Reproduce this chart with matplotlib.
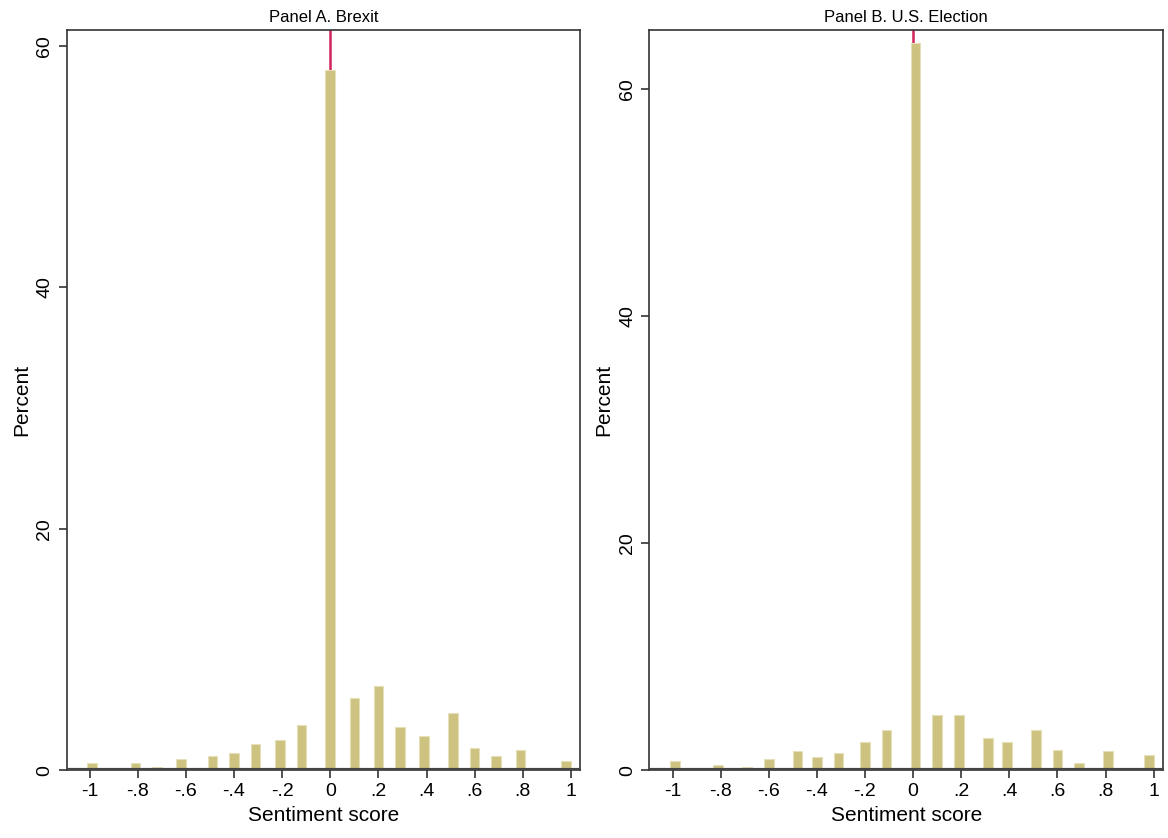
import matplotlib.pyplot as plt

plt.rcParams['font.family'] = ['Liberation Sans', 'DejaVu Sans']

brexit_x = [-0.99, -0.90, -0.81, -0.72, -0.62, -0.49, -0.40, -0.31, -0.21, -0.12, 0.0,
            0.10, 0.20, 0.29, 0.39, 0.51, 0.60, 0.69, 0.79, 0.89, 0.98]
brexit_y = [0.55, 0.1, 0.55, 0.28, 0.9, 1.2, 1.4, 2.15, 2.5, 3.75, 58.0,
            6.0, 6.95, 3.6, 2.8, 4.7, 1.85, 1.2, 1.7, 0.1, 0.75]
us_x = [-0.99, -0.90, -0.81, -0.69, -0.60, -0.48, -0.40, -0.31, -0.20, -0.11, 0.01,
        0.10, 0.19, 0.31, 0.39, 0.51, 0.60, 0.69, 0.81, 0.89, 0.98]
us_y = [0.8, 0.1, 0.47, 0.3, 1.0, 1.65, 1.15, 1.5, 2.5, 3.5, 64.1,
        4.9, 4.9, 2.8, 2.5, 3.5, 1.8, 0.65, 1.65, 0.1, 1.35]
xticks = [-1, -0.8, -0.6, -0.4, -0.2, 0, 0.2, 0.4, 0.6, 0.8, 1]
xlabels = ['-1', '-.8', '-.6', '-.4', '-.2', '0', '.2', '.4', '.6', '.8', '1']

fig = plt.figure(figsize=(11.68, 8.38), dpi=100)
panels = [('Panel A. Brexit', brexit_x, brexit_y, 61.3, [0.057, 0.081, 0.440, 0.883]),
          ('Panel B. U.S. Election', us_x, us_y, 65.2, [0.556, 0.081, 0.440, 0.883])]
for title, x, y, top, rect in panels:
    ax = fig.add_axes(rect)
    ax.axvline(0, color='#d0245a', linewidth=1.8, zorder=1)
    ax.bar(x, y, width=0.04, color='#cdc27f', edgecolor='#e6e0b8', linewidth=0.8, zorder=2)
    ax.axhline(0, color='#444444', linewidth=3, zorder=3)
    ax.set_xlim(-1.096, 1.04)
    ax.set_ylim(0, top)
    ax.set_xticks(xticks)
    ax.set_xticklabels(xlabels)
    ax.set_yticks([0, 20, 40, 60])
    ax.tick_params(labelsize=14, length=6, width=1.2, colors='#333333', labelcolor='black')
    ax.tick_params(axis='y', labelrotation=90)
    for lab in ax.get_yticklabels():
        lab.set_va('center')
    ax.set_xlabel('Sentiment score', fontsize=15)
    ax.set_ylabel('Percent', fontsize=15)
    ax.set_title(title, fontsize=12, pad=6)
    for s in ax.spines.values():
        s.set_color('#333333')
        s.set_linewidth(1.2)

fig.savefig('out.png', dpi=100)
